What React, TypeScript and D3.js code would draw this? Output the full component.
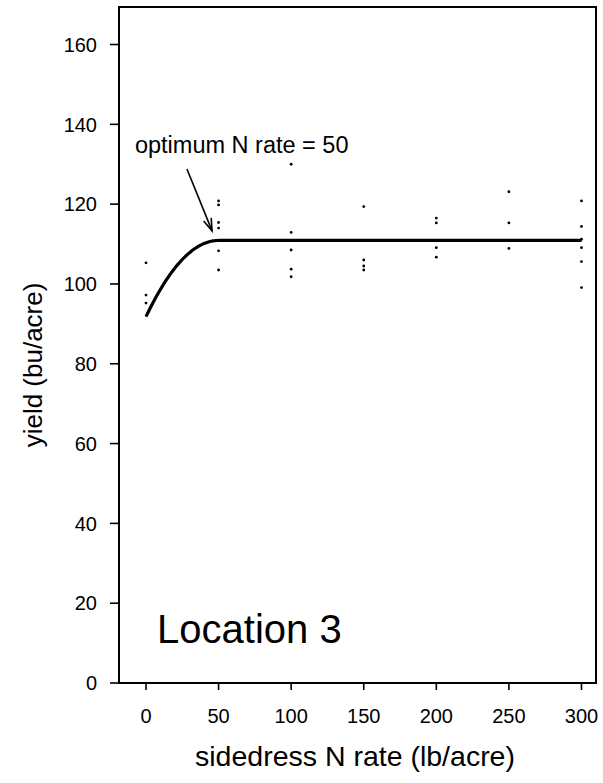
import * as d3 from 'd3'
import React from 'react'

// sidedress N rates (lb/acre) and observed yields (bu/acre) at each rate
const rates = [0, 50, 100, 150, 200, 250, 300]
const yieldsAt0 = [105.3, 97.2, 95.2]
const yieldsAt50 = [120.8, 119.8, 115.4, 114.0, 108.3, 103.5]
const yieldsAt100 = [130.0, 112.9, 108.5, 103.7, 101.8]
const yieldsAt150 = [119.4, 106.0, 104.5, 103.5]
const yieldsAt200 = [116.5, 115.3, 109.1, 106.7]
const yieldsAt250 = [123.1, 115.3, 108.9]
const yieldsAt300 = [120.8, 114.4, 111.2, 109.1, 105.6, 99.1]
const yieldsByRate = [yieldsAt0, yieldsAt50, yieldsAt100, yieldsAt150, yieldsAt200, yieldsAt250, yieldsAt300]

// quadratic-plateau fit
const fitIntercept = 91.8
const fitJoin = 50
const fitPlateau = 110.9

const xTicks = [0, 50, 100, 150, 200, 250, 300]
const yTicks = [0, 20, 40, 60, 80, 100, 120, 140, 160]

const W = 603
const H = 783
const frame = { left: 119, top: 7, right: 596, bottom: 683 }
const font = '"Liberation Sans", Arial, Helvetica, sans-serif'

const x = d3.scaleLinear().domain([-18.6, 310]).range([frame.left, frame.right])
const y = d3.scaleLinear().domain([0, 169.4]).range([frame.bottom, frame.top])

const fit = (n: number) =>
    n >= fitJoin ? fitPlateau : fitPlateau - (fitPlateau - fitIntercept) * ((fitJoin - n) / fitJoin) ** 2

export default function App() {
    const points = rates.flatMap((r, i) => yieldsByRate[i].map((v) => ({ r, v })))
    const curve = d3
        .line<number>()
        .x((n) => x(n))
        .y((n) => y(fit(n)))(d3.range(0, 300.5, 1))

    // annotation arrow (data coords)
    const a0 = [x(28.2), y(128.8)]
    const a1 = [x(45.5), y(113.3)]
    const ang = Math.atan2(a1[1] - a0[1], a1[0] - a0[0])
    const head = 13
    const spread = 0.32
    const h1 = [a1[0] - head * Math.cos(ang - spread), a1[1] - head * Math.sin(ang - spread)]
    const h2 = [a1[0] - head * Math.cos(ang + spread), a1[1] - head * Math.sin(ang + spread)]

    return (
        <svg
            width={W}
            height={H}
            style={{ position: 'absolute', left: 0, top: 0, background: '#fff' }}
            fontFamily={font}
        >
            <rect x={0} y={0} width={W} height={H} fill="#fff" />
            <rect
                x={frame.left}
                y={frame.top}
                width={frame.right - frame.left}
                height={frame.bottom - frame.top}
                fill="none"
                stroke="#000"
                strokeWidth={2}
            />
            {yTicks.map((t) => (
                <g key={'y' + t}>
                    <line x1={frame.left - 9} x2={frame.left} y1={y(t)} y2={y(t)} stroke="#000" strokeWidth={1.6} />
                    <text x={97} y={y(t)} dy="0.36em" textAnchor="end" fontSize={20}>
                        {t}
                    </text>
                </g>
            ))}
            {xTicks.map((t) => (
                <g key={'x' + t}>
                    <line x1={x(t)} x2={x(t)} y1={frame.bottom} y2={frame.bottom + 7} stroke="#000" strokeWidth={1.6} />
                    <text x={x(t)} y={716} dy="0.36em" textAnchor="middle" fontSize={20}>
                        {t}
                    </text>
                </g>
            ))}
            <text x={355} y={756} dy="0.36em" textAnchor="middle" fontSize={28.5}>
                sidedress N rate (lb/acre)
            </text>
            <text
                transform={`translate(33,365) rotate(-90)`}
                dy="0.36em"
                textAnchor="middle"
                fontSize={26}
            >
                yield (bu/acre)
            </text>
            {points.map((p, i) => (
                <circle key={i} cx={x(p.r)} cy={y(p.v)} r={1.4} fill="#000" />
            ))}
            <path d={curve ?? ''} fill="none" stroke="#000" strokeWidth={3.2} />
            <text x={x(-7.6)} y={y(132.8)} fontSize={23.5}>
                optimum N rate = 50
            </text>
            <line x1={a0[0]} y1={a0[1]} x2={a1[0]} y2={a1[1]} stroke="#000" strokeWidth={1.6} />
            <polyline
                points={`${h1[0]},${h1[1]} ${a1[0]},${a1[1]} ${h2[0]},${h2[1]}`}
                fill="none"
                stroke="#000"
                strokeWidth={1.6}
            />
            <text x={x(7.6)} y={y(10)} fontSize={40}>
                Location 3
            </text>
        </svg>
    )
}
